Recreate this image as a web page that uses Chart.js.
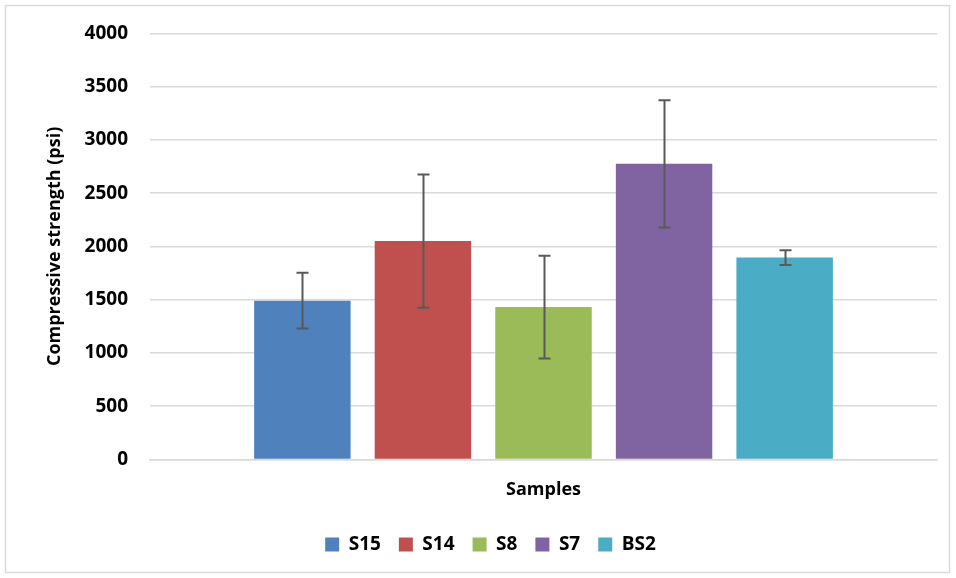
<!DOCTYPE html>
<html>
<head>
<meta charset="utf-8">
<script src="https://cdn.jsdelivr.net/npm/chart.js@4"></script>
<style>
    body { margin: 0; background: #fff; }
    #wrap { width: 956px; height: 578px; position: relative; }
</style>
</head>
<body>
<div id="wrap"><canvas id="strength-chart"></canvas></div>
<script>
// Values
const categories = ['Samples'];
const sampleNames = ['S15', 'S14', 'S8', 'S7', 'BS2'];
const strengthMean = [1490, 2050, 1430, 2775, 1895];
const strengthErr = [262, 625, 483, 597, 69];
const barColors = ['#4F81BD', '#C0504D', '#9BBB59', '#8064A2', '#4BACC6'];
const yMin = 0, yMax = 4000, yStep = 500;

const FONT = '"Open Sans", sans-serif';

// Draws the +/- error whiskers on each bar, through the y scale
const errorBars = {
    id: 'errorBars',
    afterDatasetsDraw(chart) {
        const ctx = chart.ctx;
        const y = chart.scales.y;
        ctx.save();
        ctx.strokeStyle = '#595959';
        ctx.lineWidth = 2;
        chart.data.datasets.forEach((ds, i) => {
            const meta = chart.getDatasetMeta(i);
            meta.data.forEach((bar, j) => {
                const v = ds.data[j];
                const e = ds.errors[j];
                const top = y.getPixelForValue(v + e);
                const bot = y.getPixelForValue(v - e);
                const x = Math.round(bar.x) + 0.5;
                ctx.beginPath();
                ctx.moveTo(x, top);
                ctx.lineTo(x, bot);
                ctx.moveTo(x - 6, top);
                ctx.lineTo(x + 6, top);
                ctx.moveTo(x - 6, bot);
                ctx.lineTo(x + 6, bot);
                ctx.stroke();
            });
        });
        ctx.restore();
    }
};

// Light grey frame around the whole chart
const frame = {
    id: 'frame',
    beforeDraw(chart) {
        const ctx = chart.ctx;
        ctx.save();
        ctx.fillStyle = '#fff';
        ctx.fillRect(0, 0, chart.width, chart.height);
        ctx.strokeStyle = '#d9d9d9';
        ctx.lineWidth = 1.5;
        ctx.strokeRect(5.5, 5.5, 944, 567);
        ctx.restore();
    }
};

const datasets = sampleNames.map((name, i) => ({
    label: name,
    data: [strengthMean[i]],
    errors: [strengthErr[i]],
    backgroundColor: barColors[i],
    borderWidth: 0,
    categoryPercentage: 0.766,
    barPercentage: 0.8
}));

new Chart(document.getElementById('strength-chart'), {
    type: 'bar',
    data: { labels: categories, datasets: datasets },
    plugins: [frame, errorBars],
    options: {
        responsive: true,
        maintainAspectRatio: false,
        animation: false,
        layout: { padding: { left: 44, right: 19, top: 29, bottom: 14 } },
        scales: {
            y: {
                min: yMin,
                max: yMax,
                ticks: {
                    stepSize: yStep,
                    padding: 22,
                    color: '#000',
                    callback: v => String(v),
                    font: { family: FONT, size: 19, weight: 'bold' }
                },
                grid: { color: '#d9d9d9', lineWidth: 1.5, drawTicks: false },
                border: { display: false },
                title: {
                    display: true,
                    text: 'Compressive strength (psi)',
                    color: '#000',
                    padding: 0,
                    font: { family: FONT, size: 18, weight: 'bold' }
                },
                afterFit(scale) { scale.width = 106; }
            },
            x: {
                ticks: { display: false },
                grid: { display: false },
                border: { color: '#d9d9d9', width: 1.5 },
                title: {
                    display: true,
                    text: 'Samples',
                    color: '#000',
                    padding: { top: 12, bottom: 16 },
                    font: { family: FONT, size: 18, weight: 'bold' }
                }
            }
        },
        plugins: {
            legend: {
                position: 'bottom',
                labels: {
                    color: '#000',
                    boxWidth: 14,
                    boxHeight: 14,
                    padding: 18,
                    font: { family: FONT, size: 19, weight: 'bold' }
                }
            },
            tooltip: { enabled: false }
        }
    }
});
</script>
</body>
</html>
